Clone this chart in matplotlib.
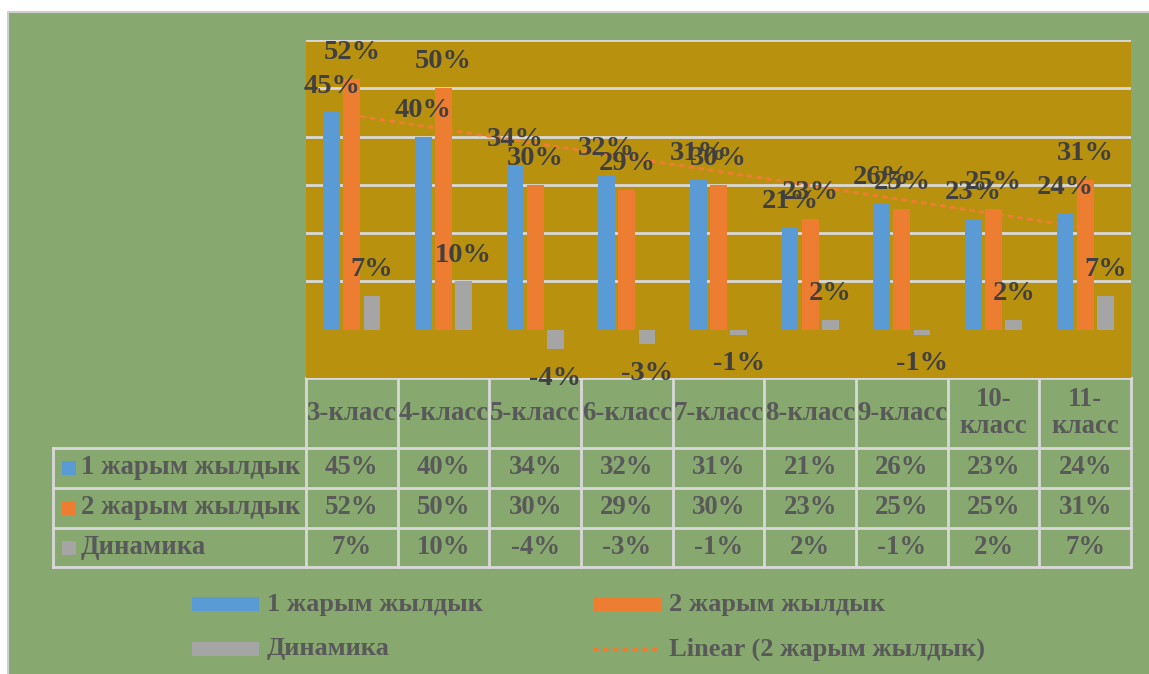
import numpy as np
import matplotlib.pyplot as plt
from matplotlib.patches import Rectangle

# data
classes = ['3-класс', '4-класс', '5-класс', '6-класс', '7-класс', '8-класс',
           '9-класс', '10-\nкласс', '11-\nкласс']
half1 = [45, 40, 34, 32, 31, 21, 26, 23, 24]
half2 = [52, 50, 30, 29, 30, 23, 25, 25, 31]
dynamic = [7, 10, -4, -3, -1, 2, -1, 2, 7]
series_names = ['1 жарым жылдык', '2 жарым жылдык', 'Динамика']
trend_name = 'Linear (2 жарым жылдык)'

blue = '#5B9BD5'
orange = '#ED7D31'
gray = '#A5A5A5'
green = '#87A86F'
gold = '#B8920F'
grid_c = '#D9D9D9'
txt = '#595959'
lbl = '#404040'

plt.rcParams['font.family'] = ['Liberation Serif', 'DejaVu Serif']
plt.rcParams['font.weight'] = 'bold'

W, H = 1149, 674
fig = plt.figure(figsize=(W / 100, H / 100), dpi=100, facecolor='white')

# overlay in pixel coords for background, table and legend
ov = fig.add_axes([0, 0, 1, 1], zorder=0)
ov.set_xlim(0, W)
ov.set_ylim(H, 0)
ov.axis('off')
ov.add_patch(Rectangle((8, 12), W - 8, H - 12, facecolor=green, lw=0))
ov.plot([8, 8, W], [H, 12, 12], color='#CFCFCF', lw=1.5)

# chart area
x0, x1, y0, y1 = 306, 1131, 40, 378
ax = fig.add_axes([x0 / W, 1 - y1 / H, (x1 - x0) / W, (y1 - y0) / H], zorder=1)
ax.set_facecolor(gold)
ax.set_xlim(-0.5, 8.5)
ax.set_ylim(-10, 60)
for s in ax.spines.values():
    s.set_visible(False)
ax.set_xticks([])
ax.set_yticks([])
for g in range(10, 61, 10):
    ax.axhline(g, color=grid_c, lw=2, zorder=0)

x = np.arange(len(classes))
bw = 0.185
off = 0.22
ax.bar(x - off, half1, bw, color=blue, zorder=3)
ax.bar(x, half2, bw, color=orange, zorder=3)
ax.bar(x + off, dynamic, bw, color=gray, zorder=3)

# linear trend of the 2nd half-year
k, b = np.polyfit(x, half2, 1)
ax.plot(x, k * x + b, color=orange, lw=2.2, linestyle=(0, (1, 2.2)),
        dash_capstyle='round', zorder=2)

for vals, dx in ((half1, -off), (half2, 0), (dynamic, off)):
    for xi, v in zip(x, vals):
        dy = 19 if v >= 0 else -21
        ax.annotate(f'{v}%', (xi + dx, v), xytext=(0, dy),
                    textcoords='offset points', ha='center', va='center',
                    fontsize=20.5, color=lbl, fontweight='bold', zorder=5,
                    annotation_clip=False)

# data table
cw = (x1 - x0) / len(classes)
rows = [448, 488, 528, 567]
lc = dict(color=grid_c, lw=2)
ov.plot([x0, x1], [y1, y1], **lc)
for r in rows:
    ov.plot([53, x1], [r, r], **lc)
for i in range(len(classes) + 1):
    ov.plot([x0 + i * cw] * 2, [y1, rows[-1]], **lc)
ov.plot([53, 53], [rows[0], rows[-1]], **lc)

fs = 19.3
for i, c in enumerate(classes):
    ov.text(x0 + (i + 0.5) * cw, (y1 + rows[0]) / 2, c, ha='center',
            va='center', fontsize=fs, color=txt, fontweight='bold',
            linespacing=1.1)

for j, (name, vals, col) in enumerate(zip(series_names,
                                          (half1, half2, dynamic),
                                          (blue, orange, gray))):
    yc = (rows[j] + rows[j + 1]) / 2
    ov.add_patch(Rectangle((62, yc - 7), 14, 14, facecolor=col, lw=0))
    ov.text(81, yc, name, ha='left', va='center', fontsize=fs,
            color=txt, fontweight='bold')
    for i, v in enumerate(vals):
        ov.text(x0 + (i + 0.5) * cw, yc, f'{v}%', ha='center', va='center',
                fontsize=fs, color=txt, fontweight='bold')

# legend
leg = [(192, 604, blue, series_names[0], 'bar'),
       (594, 604, orange, series_names[1], 'bar'),
       (192, 649, gray, series_names[2], 'bar'),
       (594, 649, orange, trend_name, 'line')]
for lx, ly, col, name, kind in leg:
    if kind == 'bar':
        ov.add_patch(Rectangle((lx, ly - 7), 67, 14, facecolor=col, lw=0))
    else:
        ov.plot([lx, lx + 67], [ly, ly], color=col, lw=2.2,
                linestyle=(0, (1, 2.2)), dash_capstyle='round')
    ov.text(lx + 75, ly, name, ha='left', va='center', fontsize=19,
            color=txt, fontweight='bold')

fig.savefig('out.png', dpi=100, facecolor=fig.get_facecolor())
